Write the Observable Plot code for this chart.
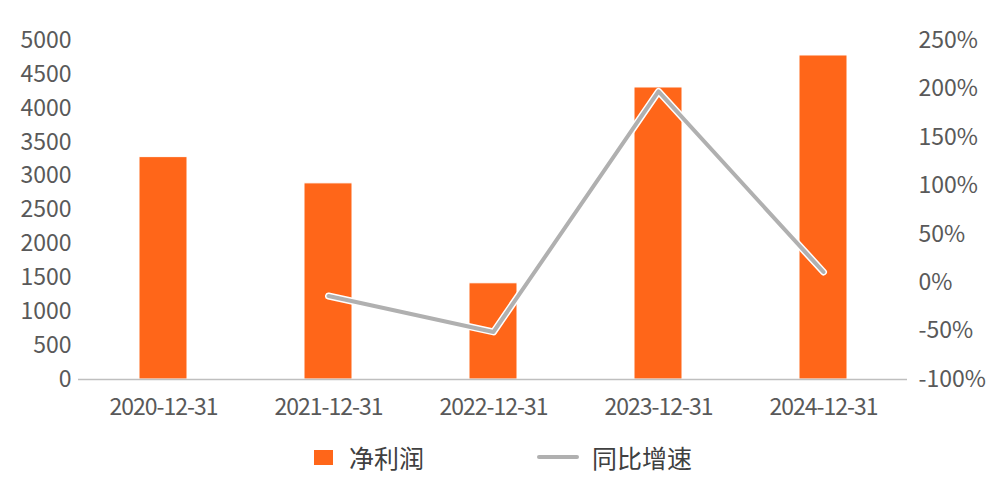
<!DOCTYPE html>
<html>
<head>
<meta charset="utf-8">
<script src="https://cdn.jsdelivr.net/npm/d3@7"></script>
<script src="https://cdn.jsdelivr.net/npm/@observablehq/plot@0.6"></script>
<style>
  html, body { margin: 0; padding: 0; background: #fff; }
  body { width: 1000px; height: 482px; overflow: hidden; font-family: "Noto Sans CJK SC", "Noto Sans", sans-serif; }
  #legend { position: relative; height: 50px; }
  .lg { position: absolute; top: 0; height: 50px; display: flex; align-items: center; font-size: 25px; color: #404040; }
  .sw { width: 19px; height: 15px; background: #FF6619; margin-right: 16px; }
  .ln { width: 42px; height: 4px; background: #B0B0B0; border-radius: 2px; margin-right: 13px; }
  g[aria-label="x-axis tick label"] text { letter-spacing: -1px; }
</style>
</head>
<body>
<div id="chart"></div>
<div id="legend">
  <div class="lg" style="left:314px"><div class="sw"></div><span>净利润</span></div>
  <div class="lg" style="left:537px"><div class="ln"></div><span>同比增速</span></div>
</div>
<script>
const dates = ["2020-12-31", "2021-12-31", "2022-12-31", "2023-12-31", "2024-12-31"];
const netProfit = [3280, 2893, 1419, 4307, 4779];
const growthDates = ["2021-12-31", "2022-12-31", "2023-12-31", "2024-12-31"];
const growthPct = [-13.8, -50.9, 197.4, 11.0];
const leftTicks = [0, 500, 1000, 1500, 2000, 2500, 3000, 3500, 4000, 4500, 5000];
const rightTicks = [-100, -50, 0, 50, 100, 150, 200, 250];

const yMax = 5000, pMin = -100, pMax = 250;
const toY = p => (p - pMin) / (pMax - pMin) * yMax;

const bars = dates.map((d, i) => ({date: d, value: netProfit[i]}));
const line = growthDates.map((d, i) => ({date: d, y: toY(growthPct[i])}));

const chart = Plot.plot({
  width: 1000,
  height: 432,
  marginLeft: 78,
  marginRight: 93,
  marginTop: 40,
  marginBottom: 53,
  style: {fontFamily: '"Noto Sans CJK SC", "Noto Sans", sans-serif', fontSize: "23px", color: "#595959", background: "#fff"},
  x: {type: "band", domain: dates, paddingInner: 0.71, paddingOuter: 0.355},
  y: {domain: [0, yMax]},
  marks: [
    Plot.barY(bars, {x: "date", y: "value", fill: "#FF6619", stroke: "#fff", strokeWidth: 1}),
    Plot.ruleY([0], {stroke: "#BFBFBF", strokeWidth: 1.5}),
    Plot.line(line, {x: "date", y: "y", stroke: "#fff", strokeWidth: 7, strokeLinecap: "round", strokeLinejoin: "round"}),
    Plot.line(line, {x: "date", y: "y", stroke: "#B0B0B0", strokeWidth: 4, strokeLinecap: "round", strokeLinejoin: "round"}),
    Plot.axisY(leftTicks, {anchor: "left", tickSize: 0, tickPadding: 7, fontSize: 23, fill: "#595959", label: null, tickFormat: d => String(d)}),
    Plot.axisY(rightTicks.map(toY), {anchor: "right", tickSize: 0, tickPadding: 11, fontSize: 23, fill: "#595959", label: null,
      tickFormat: (v) => `${Math.round(v / yMax * (pMax - pMin) + pMin)}%`}),
    Plot.axisX({anchor: "bottom", tickSize: 0, tickPadding: 19, fontSize: 23, fill: "#595959", label: null})
  ]
});
document.getElementById("chart").appendChild(chart);
</script>
</body>
</html>
